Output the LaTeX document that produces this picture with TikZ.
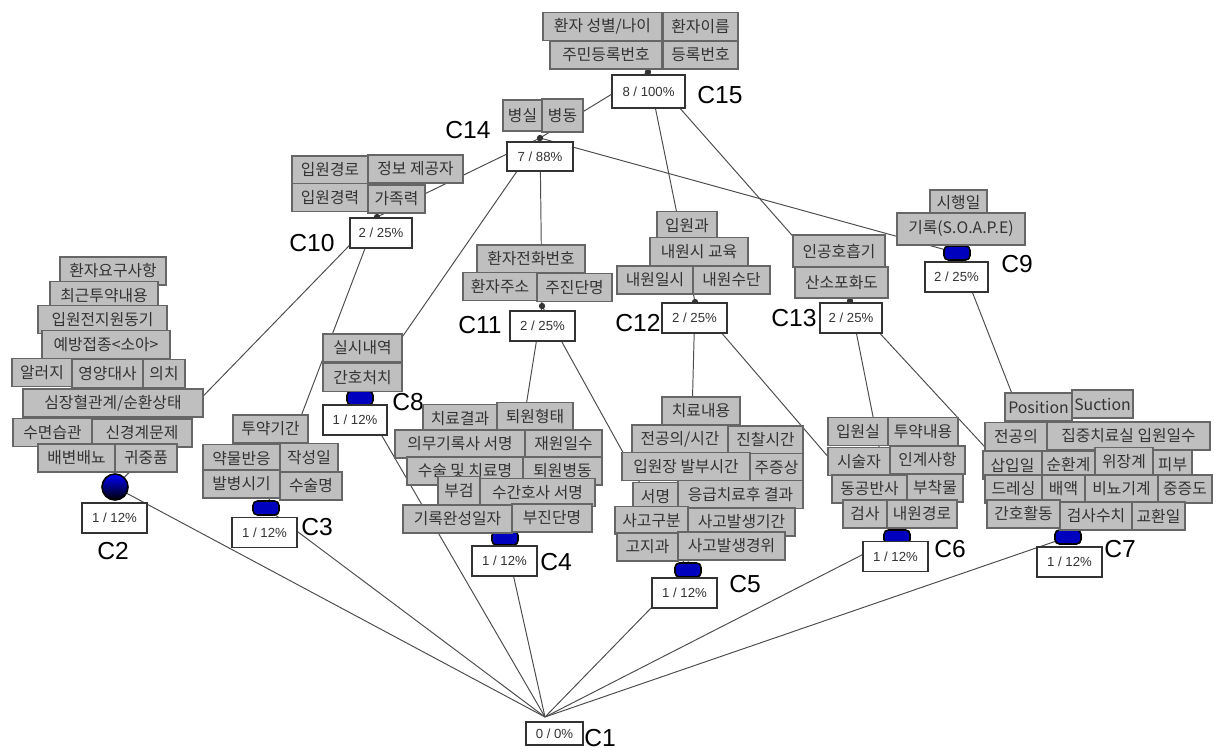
\documentclass[tikz,border=0pt]{standalone}
\usepackage{fontspec}
\setmainfont{Liberation Sans}
\newfontfamily\kr{Noto Sans CJK KR}
\usetikzlibrary{shapes.geometric}

\tikzset{
  lbl/.style={draw=black!60, fill=black!25, line width=0.6pt, inner sep=1pt,
    minimum width=#1*0.02cm, minimum height=28*0.02cm, text=black!80,
    font=\kr\fontsize{9}{10}\selectfont},
  cnt/.style={draw=black!80, fill=white, line width=0.6pt, inner sep=1pt,
    minimum width=65*0.02cm, minimum height=30*0.02cm, text=black!80,
    font=\fontsize{7.5}{8}\selectfont},
  cname/.style={font=\fontsize{14}{14}\selectfont, inner sep=0pt},
  obj/.style={rectangle, rounded corners=2.5pt, draw=black, line width=0.9pt,
    fill=blue!75!black, minimum width=26*0.02cm, minimum height=14*0.02cm,
    inner sep=0pt},
  lnk/.style={draw=black!70, line width=0.55pt}
}

\begin{document}
\begin{tikzpicture}[x=0.02cm, y=-0.02cm]
  \fill[white] (0,0) rectangle (1219,756);
  \useasboundingbox (0,0) rectangle (1219,756);

  % Concept points
  \coordinate (p1) at (545,717);
  \coordinate (p2) at (115,487);
  \coordinate (p3) at (266,508);
  \coordinate (p4) at (505,538);
  \coordinate (p5) at (688,570);
  \coordinate (p6) at (897,537);
  \coordinate (p7) at (1068,537);
  \coordinate (p8) at (360,398);
  \coordinate (p9) at (957,253);
  \coordinate (p10) at (377,217);
  \coordinate (p11) at (542,306);
  \coordinate (p12) at (695,302);
  \coordinate (p13) at (850,301);
  \coordinate (p14) at (540,138);
  \coordinate (p15) at (648,72);

  % Lattice lines
  \draw[lnk] (p15) -- (p14);
  \draw[lnk] (p15) -- (p12);
  \draw[lnk] (p15) -- (p13);
  \draw[lnk] (p14) -- (p10);
  \draw[lnk] (p14) -- (p11);
  \draw[lnk] (p14) -- (p8);
  \draw[lnk] (p14) -- (p9);
  \draw[lnk] (p10) -- (p2);
  \draw[lnk] (p10) -- (p3);
  \draw[lnk] (p11) -- (p4);
  \draw[lnk] (p11) -- (p5);
  \draw[lnk] (p12) -- (p5);
  \draw[lnk] (p12) -- (p6);
  \draw[lnk] (p13) -- (p6);
  \draw[lnk] (p13) -- (p7);
  \draw[lnk] (p9) -- (p7);
  \foreach \c in {2,3,8,4,5,6,7}
    \draw[lnk] (p1) -- (p\c);

  % Small markers
  \foreach \c in {10,11,12,13,14,15}
    \fill[black!80] (p\c) circle (1.8pt);

  % Object markers
  \node[circle, draw=black, line width=0.9pt, top color=blue, bottom color=black,
    minimum size=26*0.02cm, inner sep=0pt] (o2) at (p2) {};
  \foreach \c in {3,8,4,5,6,7,9}
    \node[obj] (o\c) at (p\c) {};

  % C15
  \node[lbl=119] (t15a) at (602.5,26.5) {환자 성별/나이};
  \node[lbl=75] (t15b) at (700.5,26.5) {환자이름};
  \node[lbl=112] (t15c) at (606,55) {주민등록번호};
  \node[lbl=75] (t15d) at (700.5,55) {등록번호};
  \node[cnt, minimum width=73*0.02cm, minimum height=33*0.02cm] (n15) at (648.5,91.5) {8 / 100\%};
  \node[cname] (c15) at (720,95) {C15};

  % C14
  \node[lbl=39, minimum height=31*0.02cm] (t14a) at (522.5,115.5) {병실};
  \node[lbl=41, minimum height=33*0.02cm] (t14b) at (562.5,115.5) {병동};
  \node[cnt, minimum width=66*0.02cm, minimum height=29*0.02cm] (n14) at (540,156.5) {7 / 88\%};
  \node[cname] (c14) at (468,130) {C14};

  % C10
  \node[lbl=76] (t10a) at (330,170) {입원경로};
  \node[lbl=95] (t10b) at (415.5,169) {정보 제공자};
  \node[lbl=76] (t10c) at (330,197.5) {입원경력};
  \node[lbl=57] (t10d) at (396.5,199) {가족력};
  \node[cnt, minimum width=62*0.02cm] (n10) at (381,233) {2 / 25\%};
  \node[cname] (c10) at (312,243) {C10};

  % C2
  \node[lbl=106] (t2a) at (113,271) {환자요구사항};
  \node[lbl=108] (t2b) at (104,295.5) {최근투약내용};
  \node[lbl=129] (t2c) at (102.5,319.5) {입원전지원동기};
  \node[lbl=128] (t2d) at (106,344.5) {예방접종<소아>};
  \node[lbl=71] (t2f) at (107.5,373.5) {영양대사};
  \node[lbl=42] (t2g) at (164,373.5) {의치};
  \node[lbl=60] (t2e) at (42,372.5) {알러지};
  \node[lbl=180] (t2h) at (113,403) {심장혈관계/순환상태};
  \node[lbl=79] (t2i) at (52.5,432.5) {수면습관};
  \node[lbl=100] (t2j) at (142,433) {신경계문제};
  \node[lbl=77] (t2k) at (76.5,458) {배변배뇨};
  \node[lbl=62] (t2l) at (146,458) {귀중품};
  \node[cnt] (n2) at (114.5,518) {1 / 12\%};
  \node[cname] (c2) at (113,551) {C2};

  % C3
  \node[lbl=75] (t3a) at (270.5,429) {투약기간};
  \node[lbl=77] (t3b) at (241.5,458.5) {약물반응};
  \node[lbl=58] (t3c) at (309,457.5) {작성일};
  \node[lbl=77] (t3d) at (241.5,484) {발병시기};
  \node[lbl=62] (t3e) at (311,486) {수술명};
  \node[cnt] (n3) at (264.5,532.5) {1 / 12\%};
  \node[cname] (c3) at (317,527) {C3};

  % C8
  \node[lbl=79] (t8a) at (362.5,348) {실시내역};
  \node[lbl=79] (t8b) at (362.5,377.5) {간호처치};
  \node[cnt, minimum width=64*0.02cm] (n8) at (355,420) {1 / 12\%};
  \node[cname] (c8) at (408,402) {C8};

  % C11
  \node[lbl=108] (t11a) at (531,259) {환자전화번호};
  \node[lbl=74] (t11b) at (500,286.5) {환자주소};
  \node[lbl=75] (t11c) at (574.5,287.5) {주진단명};
  \node[cnt] (n11) at (542.5,326) {2 / 25\%};
  \node[cname] (c11) at (480,325) {C11};

  % C4
  \node[lbl=74] (t4a) at (460,418.5) {치료결과};
  \node[lbl=76] (t4b) at (535,416.5) {퇴원형태};
  \node[lbl=130] (t4c) at (460,444) {의무기록사 서명};
  \node[lbl=77] (t4d) at (563.5,444) {재원일수};
  \node[lbl=116] (t4e) at (465,471) {수술 및 치료명};
  \node[lbl=79] (t4f) at (562.5,471) {퇴원병동};
  \node[lbl=42] (t4g) at (459,490.5) {부검};
  \node[lbl=115] (t4h) at (537.5,492.5) {수간호사 서명};
  \node[lbl=109] (t4i) at (457.5,519) {기록완성일자};
  \node[lbl=80] (t4j) at (552,518) {부진단명};
  \node[cnt] (n4) at (504.5,561) {1 / 12\%};
  \node[cname] (c4) at (556,562) {C4};

  % C12
  \node[lbl=60] (t12a) at (687,225.5) {입원과};
  \node[lbl=98] (t12b) at (699,251.5) {내원시 교육};
  \node[lbl=76] (t12c) at (655,280) {내원일시};
  \node[lbl=77] (t12d) at (731.5,280) {내원수단};
  \node[cnt] (n12) at (694.5,318) {2 / 25\%};
  \node[cname] (c12) at (638,323) {C12};

  % C5
  \node[lbl=78] (t5a) at (701,411) {치료내용};
  \node[lbl=96] (t5b) at (680,439) {전공의/시간};
  \node[lbl=75] (t5c) at (765.5,440) {진찰시간};
  \node[lbl=53] (t5e) at (776.5,467.5) {주증상};
  \node[lbl=128] (t5d) at (686,466.5) {입원장 발부시간};
  \node[lbl=45] (t5f) at (655.5,496.5) {서명};
  \node[lbl=125] (t5g) at (740.5,494.5) {응급치료후 결과};
  \node[lbl=73] (t5h) at (651.5,520.5) {사고구분};
  \node[lbl=107] (t5i) at (741.5,522) {사고발생기간};
  \node[lbl=61] (t5j) at (647.5,547) {고지과};
  \node[lbl=107] (t5k) at (731.5,546) {사고발생경위};
  \node[cnt] (n5) at (684.5,593) {1 / 12\%};
  \node[cname] (c5) at (745,584) {C5};

  % C13
  \node[lbl=92, minimum height=32*0.02cm] (t13a) at (839,251) {인공호흡기};
  \node[lbl=93, minimum height=31*0.02cm] (t13b) at (841.5,282.5) {산소포화도};
  \node[cnt, minimum width=62*0.02cm] (n13) at (851,318) {2 / 25\%};
  \node[cname] (c13) at (794,318) {C13};

  % C9
  \node[lbl=57, minimum height=25*0.02cm] (t9a) at (958.5,202.5) {시행일};
  \node[lbl=128, minimum height=32*0.02cm] (t9b) at (961,229) {기록(S.O.A.P.E)};
  \node[cnt, minimum width=63*0.02cm] (n9) at (956.5,277) {2 / 25\%};
  \node[cname] (c9) at (1017,264) {C9};

  % C6
  \node[lbl=60] (t6a) at (858,431.5) {입원실};
  \node[lbl=70] (t6b) at (923,431.5) {투약내용};
  \node[lbl=62] (t6c) at (859,461.5) {시술자};
  \node[lbl=75] (t6d) at (927.5,460) {인계사항};
  \node[lbl=75] (t6e) at (869.5,489) {동공반사};
  \node[lbl=56] (t6f) at (935,488) {부착물};
  \node[lbl=44] (t6g) at (865,514) {검사};
  \node[lbl=70] (t6h) at (922,514) {내원경로};
  \node[cnt] (n6) at (895.5,556.5) {1 / 12\%};
  \node[cname] (c6) at (950,549) {C6};

  % C7
  \node[lbl=67] (t7a) at (1038.5,407) {Position};
  \node[lbl=61] (t7b) at (1102.5,404) {Suction};
  \node[lbl=62] (t7c) at (1016,436.5) {전공의};
  \node[lbl=163] (t7d) at (1128.5,436) {집중치료실 입원일수};
  \node[lbl=59] (t7e) at (1012.5,465) {삽입일};
  \node[lbl=53] (t7f) at (1068.5,465) {순환계};
  \node[lbl=39] (t7h) at (1172.5,464.5) {피부};
  \node[lbl=58] (t7g) at (1124,461.5) {위장계};
  \node[lbl=57] (t7i) at (1013.5,489) {드레싱};
  \node[lbl=43] (t7j) at (1063.5,489) {배액};
  \node[lbl=73] (t7k) at (1121.5,489) {비뇨기계};
  \node[lbl=54] (t7l) at (1185,489) {중증도};
  \node[lbl=73] (t7m) at (1023.5,514) {간호활동};
  \node[lbl=72] (t7n) at (1096,516) {검사수치};
  \node[lbl=53] (t7o) at (1158.5,516) {교환일};
  \node[cnt] (n7) at (1069.5,562) {1 / 12\%};
  \node[cname] (c7) at (1120,549) {C7};

  % C1
  \node[cnt, minimum width=57*0.02cm, minimum height=23*0.02cm] (n1) at (554.5,733.5) {0 / 0\%};
  \node[cname] (c1) at (600,738) {C1};
\end{tikzpicture}
\end{document}
